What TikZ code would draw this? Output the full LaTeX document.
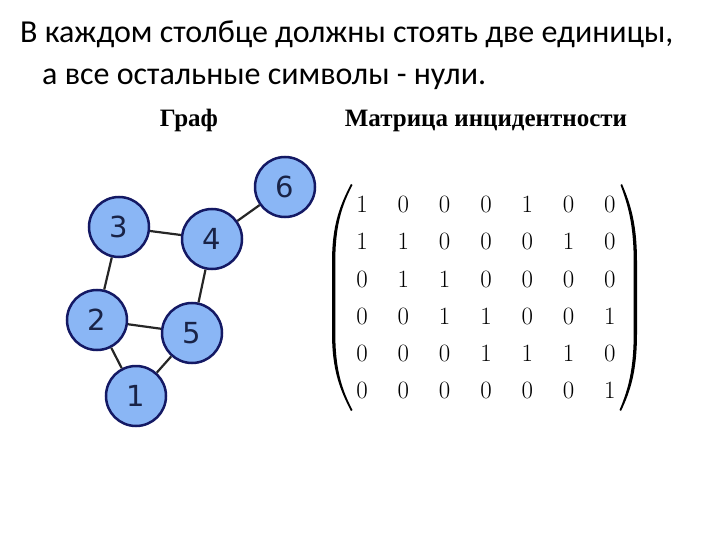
\documentclass[tikz,border=0pt]{standalone}
\usepackage{fontspec}
\setmainfont{Liberation Serif}
\newfontfamily\headfont{Carlito}
\newfontfamily\digitfont{DejaVu Sans}
\usepackage{amsmath}
\usepackage{tikz}
\usetikzlibrary{positioning,matrix}
\definecolor{nodefill}{RGB}{138,182,245}
\definecolor{nodeline}{RGB}{20,25,100}
\definecolor{digitcol}{RGB}{25,35,70}

\tikzset{
  vertex/.style={circle,draw=nodeline,fill=nodefill,line width=2.5pt,
    minimum size=60pt,inner sep=0pt,text=digitcol,
    font=\digitfont\fontsize{29}{29}\selectfont},
  edge/.style={line width=2.2pt,black!85},
  caption/.style={font=\bfseries\fontsize{25}{28}\selectfont,anchor=base},
  headline/.style={anchor=base west,inner sep=0pt,font=\headfont\fontsize{32}{36}\selectfont}
}

\begin{document}
\begin{tikzpicture}[x=1pt,y=-1pt]
  \useasboundingbox (0,0) rectangle (720,540);
  % header text
  \node[headline] (line1) at (20,43) {В каждом столбце должны стоять две единицы,};
  \node[headline] (line2) at (42,85) {а все остальные символы - нули.};
  % captions
  \node[caption] (capgraph) at (189,127) {Граф};
  \node[caption] (capmatrix) at (486,127) {Матрица инцидентности};
  % graph
  \node[vertex] (v6) at (285,187) {6};
  \node[vertex] (v3) at (119,227) {3};
  \node[vertex] (v4) at (212,239) {4};
  \node[vertex] (v2) at (97,320) {2};
  \node[vertex] (v5) at (192,333) {5};
  \node[vertex] (v1) at (136,396) {1};
  \draw[edge] (v3) -- (v4);
  \draw[edge] (v4) -- (v6);
  \draw[edge] (v3) -- (v2);
  \draw[edge] (v4) -- (v5);
  \draw[edge] (v2) -- (v5);
  \draw[edge] (v2) -- (v1);
  \draw[edge] (v1) -- (v5);
  % incidence matrix
  \matrix (inc) [matrix of math nodes,
    inner sep=0pt,column sep=26.3pt,row sep=17.7pt,
    nodes={inner sep=0pt,text height=19.5pt,text depth=0pt,text width=15pt,align=center,
      font=\fontsize{30}{30}\selectfont}] at (486,296) {
    1 & 0 & 0 & 0 & 1 & 0 & 0 \\
    1 & 1 & 0 & 0 & 0 & 1 & 0 \\
    0 & 1 & 1 & 0 & 0 & 0 & 0 \\
    0 & 0 & 1 & 1 & 0 & 0 & 1 \\
    0 & 0 & 0 & 1 & 1 & 1 & 0 \\
    0 & 0 & 0 & 0 & 0 & 0 & 1 \\
  };
  % big parentheses
  \fill (351,184) .. controls (340,205) and (332,225) .. (332,262) -- (332,333)
    .. controls (332,370) and (340,390) .. (351,411) -- (352.5,410)
    .. controls (342,390) and (335.3,370) .. (335.3,333) -- (335.3,262)
    .. controls (335.3,225) and (342,205) .. (352.5,185) -- cycle;
  \fill (622,184) .. controls (631,205) and (637,225) .. (637,262) -- (637,333)
    .. controls (637,370) and (631,390) .. (621,411) -- (619.5,410)
    .. controls (628,390) and (633.7,370) .. (633.7,333) -- (633.7,262)
    .. controls (633.7,225) and (628,205) .. (620.5,185) -- cycle;
\end{tikzpicture}
\end{document}
